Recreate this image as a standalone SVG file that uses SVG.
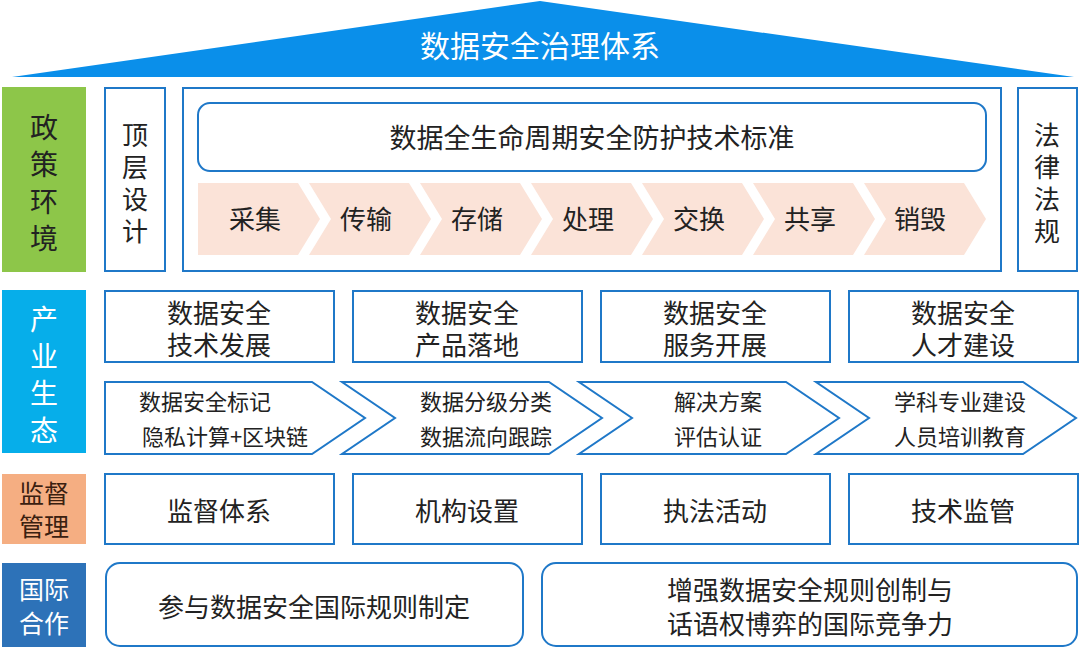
<svg xmlns="http://www.w3.org/2000/svg" width="1080" height="654" viewBox="0 0 1080 654">
<style>
text{font-family:"Noto Sans CJK SC",sans-serif;text-anchor:middle;dominant-baseline:central;fill:#222}
.b{fill:#fff;stroke:#1f78c8;stroke-width:2}
.s{font-size:26px}
.m{font-size:22px}
.ch{fill:#fbe3d8}
.wt{fill:#fff}
</style>
<rect width="1080" height="654" fill="#fff"/>
<g id="roof"><polygon points="12,77 540,1 1074,77" fill="#0a8fea"/><text x="540" y="44" class="wt" style="font-size:30px">数据安全治理体系</text></g>
<g id="policy"><rect x="2" y="87" width="84" height="185" fill="#8dc649"/><text x="44" y="126" style="font-size:28px">政</text><text x="44" y="163" style="font-size:28px">策</text><text x="44" y="200" style="font-size:28px">环</text><text x="44" y="237" style="font-size:28px">境</text></g>
<g id="top"><rect class="b" x="105" y="88" width="60" height="183"/><text class="s" x="135" y="133">顶</text><text class="s" x="135" y="165">层</text><text class="s" x="135" y="197">设</text><text class="s" x="135" y="229">计</text></g>
<g id="lifecycle"><rect class="b" x="183" y="88" width="818" height="183"/><rect class="b" x="198" y="103" width="788" height="68" rx="12"/><text class="s" x="592" y="136" style="font-size:27px">数据全生命周期安全防护技术标准</text>
<g id="steps">
<polygon class="ch" points="198,183 298,183 320,219 298,255 198,255"/>
<polygon class="ch" points="309,183 409,183 431,219 409,255 309,255 331,219"/>
<polygon class="ch" points="420,183 520,183 542,219 520,255 420,255 442,219"/>
<polygon class="ch" points="531,183 631,183 653,219 631,255 531,255 553,219"/>
<polygon class="ch" points="642,183 742,183 764,219 742,255 642,255 664,219"/>
<polygon class="ch" points="753,183 853,183 875,219 853,255 753,255 775,219"/>
<polygon class="ch" points="864,183 964,183 986,219 964,255 864,255 886,219"/>
</g>
<text class="s" x="255" y="217">采集</text><text class="s" x="366" y="217">传输</text><text class="s" x="477" y="217">存储</text><text class="s" x="588" y="217">处理</text><text class="s" x="699" y="217">交换</text><text class="s" x="810" y="217">共享</text><text class="s" x="920" y="217">销毁</text></g>
<g id="law"><rect class="b" x="1018" y="88" width="59" height="183"/><text class="s" x="1047" y="133">法</text><text class="s" x="1047" y="165">律</text><text class="s" x="1047" y="197">法</text><text class="s" x="1047" y="229">规</text></g>
<g id="industry"><rect x="2" y="290" width="84" height="163" fill="#06aeea"/><text class="wt" x="44" y="318" style="font-size:28px">产</text><text class="wt" x="44" y="355" style="font-size:28px">业</text><text class="wt" x="44" y="392" style="font-size:28px">生</text><text class="wt" x="44" y="429" style="font-size:28px">态</text></g>
<g id="r1"><rect class="b" x="105" y="291" width="229" height="71"/><text class="s" x="219" y="311">数据安全</text><text class="s" x="219" y="343">技术发展</text></g>
<g id="r2"><rect class="b" x="353" y="291" width="229" height="71"/><text class="s" x="467" y="311">数据安全</text><text class="s" x="467" y="343">产品落地</text></g>
<g id="r3"><rect class="b" x="601" y="291" width="229" height="71"/><text class="s" x="715" y="311">数据安全</text><text class="s" x="715" y="343">服务开展</text></g>
<g id="r4"><rect class="b" x="849" y="291" width="229" height="71"/><text class="s" x="963" y="311">数据安全</text><text class="s" x="963" y="343">人才建设</text></g>
<g id="c1"><polygon class="b" points="105,382 312,382 365,418 312,454 105,454"/><text class="m" x="205" y="400">数据安全标记</text><text class="m" x="225" y="435">隐私计算+区块链</text></g>
<g id="c2"><polygon class="b" points="342,382 549,382 602,418 549,454 342,454 395,418"/><text class="m" x="486" y="400">数据分级分类</text><text class="m" x="486" y="435">数据流向跟踪</text></g>
<g id="c3"><polygon class="b" points="579,382 786,382 839,418 786,454 579,454 632,418"/><text class="m" x="718" y="400">解决方案</text><text class="m" x="718" y="435">评估认证</text></g>
<g id="c4"><polygon class="b" points="816,382 1023,382 1076,418 1023,454 816,454 869,418"/><text class="m" x="960" y="400">学科专业建设</text><text class="m" x="960" y="435">人员培训教育</text></g>
<g id="supervise"><rect x="2" y="474" width="84" height="70" fill="#f5ae82"/><text x="44" y="492" style="font-size:25px;fill:#3a2010">监督</text><text x="44" y="525" style="font-size:25px;fill:#3a2010">管理</text></g>
<g id="s1"><rect class="b" x="105" y="474" width="229" height="70"/><text class="s" x="219" y="509">监督体系</text></g>
<g id="s2"><rect class="b" x="353" y="474" width="229" height="70"/><text class="s" x="467" y="509">机构设置</text></g>
<g id="s3"><rect class="b" x="601" y="474" width="229" height="70"/><text class="s" x="715" y="509">执法活动</text></g>
<g id="s4"><rect class="b" x="849" y="474" width="229" height="70"/><text class="s" x="963" y="509">技术监管</text></g>
<g id="intl"><rect x="2" y="563" width="84" height="84" fill="#2d72b8"/><text class="wt" x="44" y="588" style="font-size:25px">国际</text><text class="wt" x="44" y="622" style="font-size:25px">合作</text></g>
<g id="i1"><rect class="b" x="106" y="563" width="417" height="83" rx="14"/><text class="s" x="314" y="605">参与数据安全国际规则制定</text></g>
<g id="i2"><rect class="b" x="542" y="563" width="535" height="83" rx="14"/><text class="s" x="810" y="588">增强数据安全规则创制与</text><text class="s" x="810" y="622">话语权博弈的国际竞争力</text></g>
</svg>
